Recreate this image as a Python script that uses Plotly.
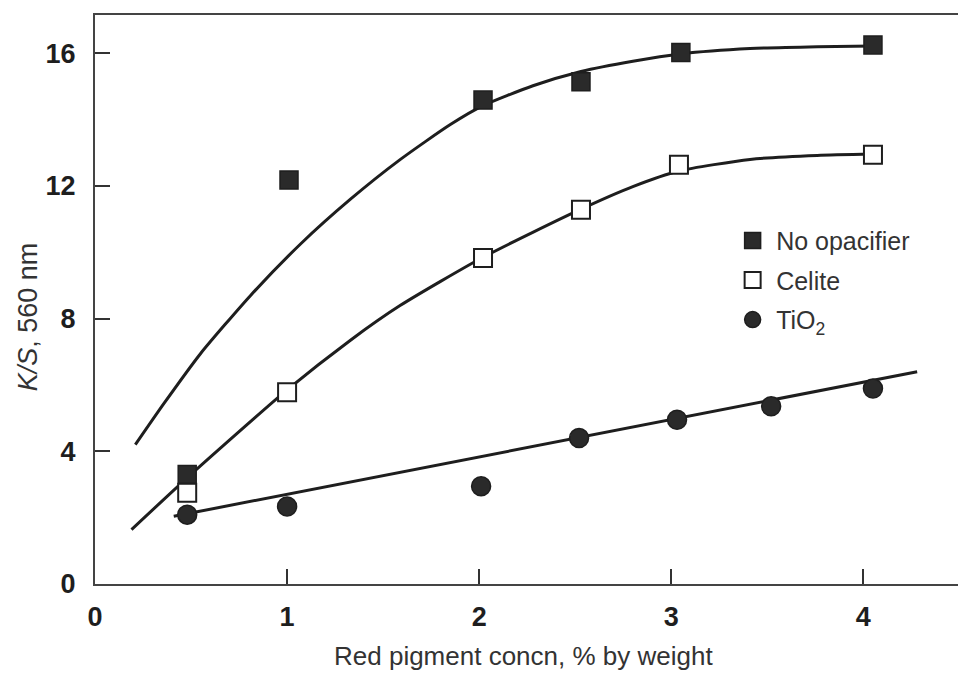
import plotly.graph_objects as go

# ---- data ----
no_opac_x = [0.48, 1.01, 2.02, 2.53, 3.05, 4.05]
no_opac_y = [3.30, 12.18, 14.59, 15.14, 16.02, 16.25]

celite_x = [0.48, 1.00, 2.02, 2.53, 3.04, 4.05]
celite_y = [2.75, 5.78, 9.83, 11.28, 12.64, 12.94]

tio2_x = [0.48, 1.00, 2.01, 2.52, 3.03, 3.52, 4.05]
tio2_y = [2.09, 2.34, 2.95, 4.40, 4.95, 5.36, 5.89]

# fitted curves as drawn
no_opac_fit_x = [0.21, 0.36, 0.55, 0.81, 1.07, 1.33, 1.59, 1.85, 2.02, 2.28, 2.53, 2.80, 3.05, 3.41, 3.76, 4.05]
no_opac_fit_y = [4.20, 5.45, 6.95, 8.70, 10.25, 11.60, 12.80, 13.85, 14.42, 15.02, 15.45, 15.76, 15.98, 16.14, 16.20, 16.22]

celite_fit_x = [0.19, 0.48, 1.00, 1.33, 1.59, 2.02, 2.53, 2.80, 3.04, 3.41, 3.76, 4.05]
celite_fit_y = [1.64, 3.20, 5.85, 7.35, 8.40, 9.85, 11.30, 11.98, 12.45, 12.80, 12.92, 12.96]

tio2_fit_x = [0.41, 4.28]
tio2_fit_y = [2.04, 6.40]

x_ticks = [0, 1, 2, 3, 4]
y_ticks = [0, 4, 8, 12, 16]

FONT = "Liberation Sans"
INK = "#1e1e1e"
LW = 3

fig = go.Figure()

for fx, fy in [(no_opac_fit_x, no_opac_fit_y), (celite_fit_x, celite_fit_y), (tio2_fit_x, tio2_fit_y)]:
    fig.add_trace(go.Scatter(x=fx, y=fy, mode="lines", line=dict(color=INK, width=LW, shape="spline", smoothing=0.6),
                             showlegend=False, hoverinfo="skip"))

fig.add_trace(go.Scatter(x=no_opac_x, y=no_opac_y, mode="markers", name="No opacifier", legendgroup="a",
                         marker=dict(symbol="square", size=18, color="#2a2a2a", line=dict(color=INK, width=1.5))))
fig.add_trace(go.Scatter(x=celite_x, y=celite_y, mode="markers", name="Celite", legendgroup="b",
                         marker=dict(symbol="square", size=18, color="white", line=dict(color=INK, width=2))))
fig.add_trace(go.Scatter(x=tio2_x, y=tio2_y, mode="markers", name="TiO<sub>2</sub>", legendgroup="c",
                         marker=dict(symbol="circle", size=19, color="#2a2a2a", line=dict(color=INK, width=1.5))))

L, R, T, B = 94.5, 958, 15, 584.5
W, H = 958, 673

fig.update_layout(
    width=W, height=H,
    margin=dict(l=L, r=W - R, t=T, b=H - B, pad=0, autoexpand=False),
    paper_bgcolor="white", plot_bgcolor="white",
    font=dict(family=FONT, color=INK),
    legend=dict(x=(729 - L) / (R - L), y=(B - 218) / (B - T), xanchor="left", yanchor="top",
                font=dict(family=FONT, size=25, color="#333"), bgcolor="rgba(0,0,0,0)",
                tracegroupgap=4, itemwidth=37),
    xaxis=dict(range=[0, (R - L) / 192.2], tickvals=x_ticks, ticktext=[str(v) for v in x_ticks],
               ticks="inside", ticklen=15, tickwidth=2, tickcolor="#333",
               showline=True, linewidth=2, linecolor="#444", mirror=True,
               showgrid=False, zeroline=False, ticklabelstandoff=8,
               tickfont=dict(family=FONT, size=27, weight="bold", color=INK)),
    yaxis=dict(range=[0, (B - T) / 33.2], tickvals=y_ticks, ticktext=[str(v) for v in y_ticks],
               ticks="inside", ticklen=15, tickwidth=2, tickcolor="#333",
               showline=True, linewidth=2, linecolor="#444", mirror=False,
               showgrid=False, zeroline=False, ticklabelstandoff=12,
               tickfont=dict(family=FONT, size=27, weight="bold", color=INK)),
    annotations=[
        dict(text="Red pigment concn, % by weight", xref="paper", yref="paper",
             x=(523 - L) / (R - L), y=(B - 657) / (B - T), xanchor="center", yanchor="middle",
             showarrow=False, font=dict(family=FONT, size=26, color="#333")),
        dict(text="<i>K/S</i>, 560 nm", xref="paper", yref="paper",
             x=(27 - L) / (R - L), y=(B - 317) / (B - T), xanchor="center", yanchor="middle",
             textangle=-90, showarrow=False, font=dict(family=FONT, size=27, color="#333")),
    ],
)

fig.write_html("out.html", config={"displayModeBar": False},
               post_script="document.body.style.margin='0';document.body.style.overflow='hidden';")
